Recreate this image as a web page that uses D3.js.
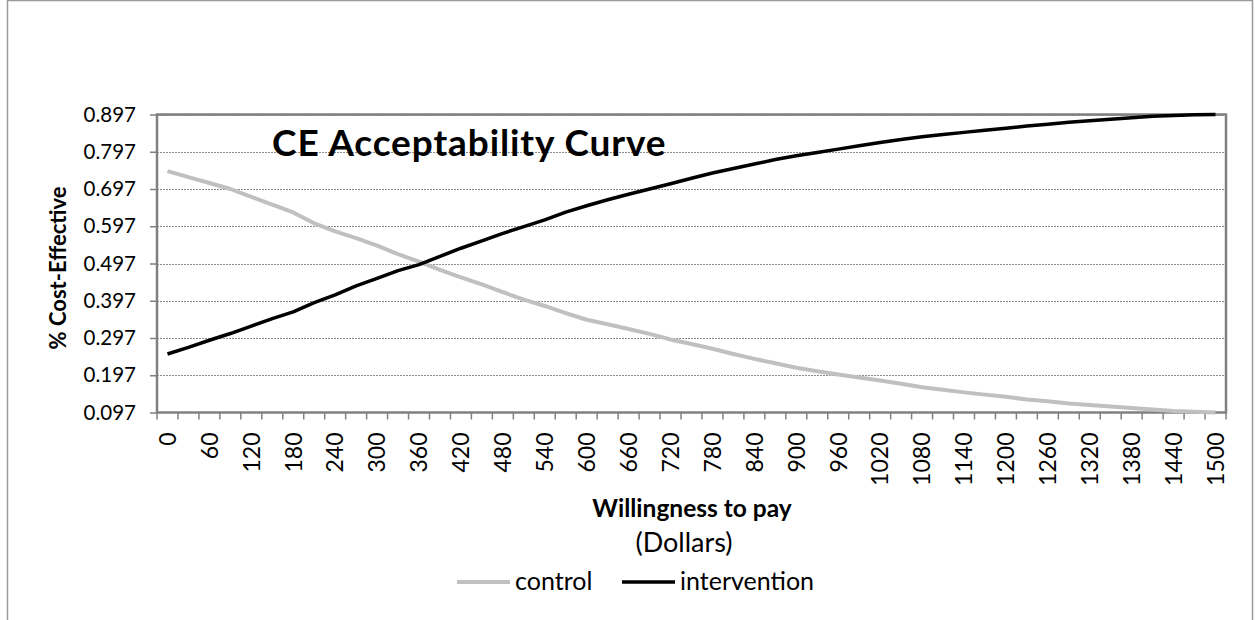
<!DOCTYPE html>
<html>
<head>
<meta charset="utf-8">
<script src="https://cdn.jsdelivr.net/npm/d3@7"></script>
<style>
  html, body { margin: 0; padding: 0; background: #fff; }
  svg { display: block; font-family: Lato, "Open Sans", "Liberation Sans", sans-serif; }
</style>
</head>
<body>
<svg id="chart" width="1255" height="620"></svg>
<script>
// Willingness to pay (dollars), one category every $30
const wtp = [0, 30, 60, 90, 120, 150, 180, 210, 240, 270, 300, 330, 360, 390, 420, 450, 480, 510,
  540, 570, 600, 630, 660, 690, 720, 750, 780, 810, 840, 870, 900, 930, 960, 990, 1020, 1050,
  1080, 1110, 1140, 1170, 1200, 1230, 1260, 1290, 1320, 1350, 1380, 1410, 1440, 1470, 1500];

// Share of simulations in which each arm is cost-effective
const control = [0.745, 0.729, 0.713, 0.697, 0.676, 0.655, 0.634, 0.605, 0.583, 0.565, 0.545,
  0.522, 0.502, 0.480, 0.460, 0.441, 0.420, 0.400, 0.383, 0.364, 0.346, 0.334, 0.321, 0.308,
  0.293, 0.281, 0.268, 0.254, 0.241, 0.229, 0.217, 0.208, 0.199, 0.191, 0.183, 0.174, 0.165,
  0.158, 0.151, 0.145, 0.139, 0.132, 0.127, 0.121, 0.117, 0.113, 0.109, 0.105, 0.101, 0.099, 0.097];

const intervention = [0.254, 0.272, 0.291, 0.309, 0.329, 0.349, 0.367, 0.392, 0.413, 0.437, 0.457,
  0.478, 0.494, 0.516, 0.538, 0.558, 0.578, 0.596, 0.614, 0.635, 0.652, 0.668, 0.683, 0.697,
  0.711, 0.726, 0.740, 0.752, 0.764, 0.776, 0.786, 0.795, 0.804, 0.813, 0.822, 0.830, 0.837,
  0.843, 0.849, 0.855, 0.860, 0.866, 0.871, 0.876, 0.880, 0.884, 0.888, 0.892, 0.894, 0.896, 0.897];

const yTicks = [0.097, 0.197, 0.297, 0.397, 0.497, 0.597, 0.697, 0.797, 0.897];
const seriesNames = ["control", "intervention"];
const seriesColors = ["#c0c0c0", "#000000"];

const svg = d3.select("#chart");

// outer chart frame
svg.append("rect")
  .attr("x", 7.5).attr("y", 0.5).attr("width", 1245).attr("height", 640)
  .attr("fill", "#fff").attr("stroke", "#9a9a9a").attr("stroke-width", 1.5);

const plot = { left: 157, right: 1226, top: 114.5, bottom: 412.5 };

const x = d3.scaleBand().domain(wtp).range([plot.left, plot.right]).padding(0);
const y = d3.scaleLinear().domain([yTicks[0], yTicks[yTicks.length - 1]])
  .range([plot.bottom, plot.top]);

// horizontal gridlines
svg.append("g").selectAll("line").data(yTicks.slice(1)).join("line")
  .attr("x1", plot.left).attr("x2", plot.right)
  .attr("y1", d => Math.round(y(d)) + 0.5).attr("y2", d => Math.round(y(d)) + 0.5)
  .attr("stroke", "#8c8c8c").attr("stroke-width", 1).attr("stroke-dasharray", "2,1");

// y axis ticks and labels
const yAxis = d3.axisLeft(y).tickValues(yTicks).tickSize(7).tickPadding(14)
  .tickFormat(d3.format(".3f"));
const gy = svg.append("g").attr("transform", `translate(${plot.left},0)`).call(yAxis);
gy.select(".domain").remove();
gy.selectAll(".tick line").attr("stroke", "#808080").attr("stroke-width", 1.5);
gy.selectAll(".tick text").attr("font-size", 20.5).attr("fill", "#000")
  .attr("font-family", "Lato, 'Open Sans', sans-serif");

// x axis: tick marks at category boundaries, labels every second category
const boundaries = wtp.map(d => x(d)).concat([plot.right]);
svg.append("g").selectAll("line").data(boundaries).join("line")
  .attr("x1", d => d).attr("x2", d => d)
  .attr("y1", plot.bottom).attr("y2", plot.bottom + 7)
  .attr("stroke", "#808080").attr("stroke-width", 1.5);

svg.append("g").selectAll("text").data(wtp.filter((d, i) => i % 2 === 0)).join("text")
  .attr("transform", d => `translate(${x(d) + x.bandwidth() / 2},${plot.bottom + 20}) rotate(-90)`)
  .attr("text-anchor", "end").attr("dy", "0.36em")
  .attr("font-size", 23).attr("fill", "#000")
  .text(d => d);

// plot area border
svg.append("rect")
  .attr("x", plot.left).attr("y", plot.top)
  .attr("width", plot.right - plot.left).attr("height", plot.bottom - plot.top)
  .attr("fill", "none").attr("stroke", "#808080").attr("stroke-width", 2.5);

// series lines
const line = d3.line().x((d, i) => x(wtp[i]) + x.bandwidth() / 2).y(d => y(d));
svg.append("path").datum(control).attr("d", line)
  .attr("fill", "none").attr("stroke", seriesColors[0]).attr("stroke-width", 4)
  .attr("stroke-linejoin", "round");
svg.append("path").datum(intervention).attr("d", line)
  .attr("fill", "none").attr("stroke", seriesColors[1]).attr("stroke-width", 3.5)
  .attr("stroke-linejoin", "round");

// title inside the plot
svg.append("text").attr("x", 272).attr("y", 156)
  .attr("font-size", 37).attr("font-weight", "bold").attr("letter-spacing", 0.9)
  .attr("fill", "#000")
  .text("CE Acceptability Curve");

// axis titles
svg.append("text")
  .attr("transform", "translate(66,268) rotate(-90)")
  .attr("text-anchor", "middle").attr("font-size", 22).attr("font-weight", "bold")
  .text("% Cost-Effective");

svg.append("text").attr("x", 692).attr("y", 517).attr("text-anchor", "middle")
  .attr("font-size", 24.5).attr("font-weight", "bold").text("Willingness to pay");
svg.append("text").attr("x", 684).attr("y", 552).attr("text-anchor", "middle")
  .attr("font-size", 27).text("(Dollars)");

// legend
const legendItems = [{ x0: 457, tx: 515 }, { x0: 622, tx: 680 }];
const lg = svg.append("g").selectAll("g").data(seriesNames).join("g");
lg.append("line")
  .attr("x1", (d, i) => legendItems[i].x0).attr("x2", (d, i) => legendItems[i].x0 + 53)
  .attr("y1", 582).attr("y2", 582)
  .attr("stroke", (d, i) => seriesColors[i]).attr("stroke-width", (d, i) => i === 0 ? 4 : 3.5);
lg.append("text")
  .attr("x", (d, i) => legendItems[i].tx).attr("y", 590)
  .attr("font-size", 25).attr("fill", "#000")
  .text(d => d);
</script>
</body>
</html>
